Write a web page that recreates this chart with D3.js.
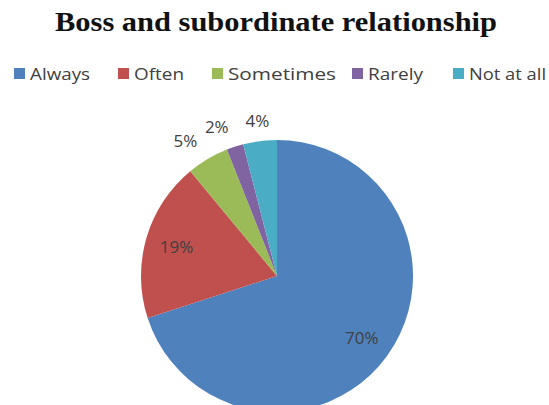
<!DOCTYPE html>
<html><head><meta charset="utf-8">
<script src="https://cdn.jsdelivr.net/npm/d3@7"></script>
<style>body{margin:0;background:#fff}svg{display:block}</style>
</head><body>
<svg id="c" width="549" height="405"></svg>
<script>
const categories = ["Always", "Often", "Sometimes", "Rarely", "Not at all"];
const values = [70, 19, 5, 2, 4];
const colors = ["#4F81BD", "#C0504D", "#9BBB59", "#8064A2", "#4BACC6"];
const title = "Boss and subordinate relationship";

const svg = d3.select("#c");
const cx = 277, cy = 276, R = 136;

svg.append("text").attr("x", 276).attr("y", 31).attr("text-anchor", "middle")
  .attr("font-family", "Liberation Serif, Times New Roman, serif").attr("font-weight", "bold")
  .attr("font-size", 28).attr("textLength", 442).attr("lengthAdjust", "spacingAndGlyphs")
  .attr("fill", "#111").text(title);

// legend
const legX = [14, 118, 212, 352, 453];
const legW = [60, 50, 108, 55, 77];
const leg = svg.append("g");
categories.forEach((c, i) => {
  leg.append("rect").attr("x", legX[i]).attr("y", 68).attr("width", 11).attr("height", 11).attr("fill", colors[i]);
  leg.append("text").attr("x", legX[i] + 16).attr("y", 80)
    .attr("font-family", "Open Sans, Lato, sans-serif").attr("font-size", 17)
    .attr("textLength", legW[i]).attr("lengthAdjust", "spacingAndGlyphs")
    .attr("fill", "#404040").text(c);
});

const pie = d3.pie().sort(null).value(d => d)(values);
const arc = d3.arc().innerRadius(0).outerRadius(R);
const g = svg.append("g").attr("transform", `translate(${cx},${cy})`);
g.selectAll("path").data(pie).join("path").attr("d", arc).attr("fill", (d, i) => colors[i]);

// labels: large slices inside, small slices outside
const inner = d3.arc().innerRadius(R * 0.77).outerRadius(R * 0.77);
const outer = d3.arc().innerRadius(R * 1.15).outerRadius(R * 1.15);
g.selectAll("text.lab").data(pie).join("text").attr("class", "lab")
  .each(function(d) {
    const out = d.data < 10;
    const p = (out ? outer : inner).centroid(d);
    const a = (d.startAngle + d.endAngle) / 2;
    const anchor = out && Math.abs(Math.sin(a)) > 0.3 ? "end" : "middle";
    d3.select(this).attr("x", p[0]).attr("y", p[1]).attr("text-anchor", anchor);
  })
  .attr("dy", "0.35em")
  .attr("font-family", "Open Sans, Lato, sans-serif").attr("font-size", 17)
  .attr("fill", "#404040").text(d => d.data + "%");
</script>
</body></html>
